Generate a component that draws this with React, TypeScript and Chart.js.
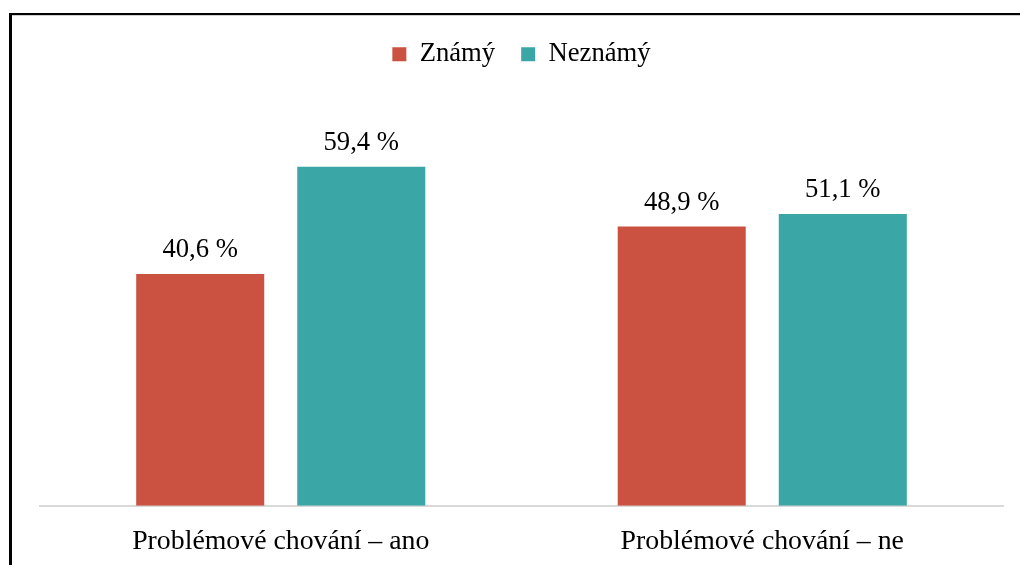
import React, { useEffect, useRef } from "react";
import { Chart, registerables } from "chart.js";

Chart.register(...registerables);

const categories = ["Problémové chování – ano", "Problémové chování – ne"];
const seriesNames = ["Známý", "Neznámý"];
const knownValues = [40.6, 48.9];
const unknownValues = [59.4, 51.1];
const colors = ["#CB5241", "#3AA6A5"];

const FONT = "'Liberation Serif', 'Times New Roman', serif";
const SIZE = 26.67;
const TICK_SIZE = 27.8;

const formatPct = (v: number) => v.toFixed(1).replace(".", ",") + " %";

const valueLabels = {
  id: "valueLabels",
  afterDatasetsDraw(chart: any) {
    const ctx = chart.ctx;
    ctx.save();
    ctx.font = `${SIZE}px ${FONT}`;
    ctx.fillStyle = "#000";
    ctx.textAlign = "center";
    ctx.textBaseline = "alphabetic";
    chart.data.datasets.forEach((ds: any, di: number) => {
      const meta = chart.getDatasetMeta(di);
      meta.data.forEach((bar: any, i: number) => {
        ctx.fillText(formatPct(ds.data[i]), bar.x, bar.y - 17);
      });
    });
    ctx.restore();
  },
};

export default function App() {
  const ref = useRef<HTMLCanvasElement>(null);
  useEffect(() => {
    if (!ref.current) return;
    const chart = new Chart(ref.current, {
      type: "bar",
      data: {
        labels: categories,
        datasets: [
          { label: seriesNames[0], data: knownValues, backgroundColor: colors[0] },
          { label: seriesNames[1], data: unknownValues, backgroundColor: colors[1] },
        ],
      },
      options: {
        responsive: false,
        animation: false,
        layout: { padding: { top: 15, left: 40, right: 17, bottom: -12 } },
        datasets: { bar: { categoryPercentage: 0.669, barPercentage: 0.795 } },
        plugins: {
          legend: {
            position: "top",
            labels: {
              font: { family: FONT, size: SIZE },
              color: "#000",
              boxWidth: 14,
              boxHeight: 14,
              padding: 26,
            },
          },
          tooltip: { enabled: false },
        },
        scales: {
          x: {
            grid: { display: false, drawTicks: false },
            border: { display: true, color: "#D9D9D9", width: 2 },
            ticks: { font: { family: FONT, size: TICK_SIZE }, color: "#000", padding: 19 },
          },
          y: { display: false, min: 0, max: 75 },
        },
      },
      plugins: [valueLabels],
    });
    return () => chart.destroy();
  }, []);
  return (
    <div style={{ position: "fixed", left: 0, top: 0, width: 1020, height: 565, background: "#fff", overflow: "hidden" }}>
      <div style={{ position: "absolute", left: 9, top: 13, width: 1100, height: 700, borderTop: "2px solid #000", borderLeft: "3px solid #000" }} />
      <div style={{ position: "absolute", left: 12, top: 15, width: 1100, height: 1, background: "#D0D0D0" }} />
      <canvas ref={ref} width={1020} height={565} style={{ position: "absolute", left: 0, top: 0 }} />
    </div>
  );
}
